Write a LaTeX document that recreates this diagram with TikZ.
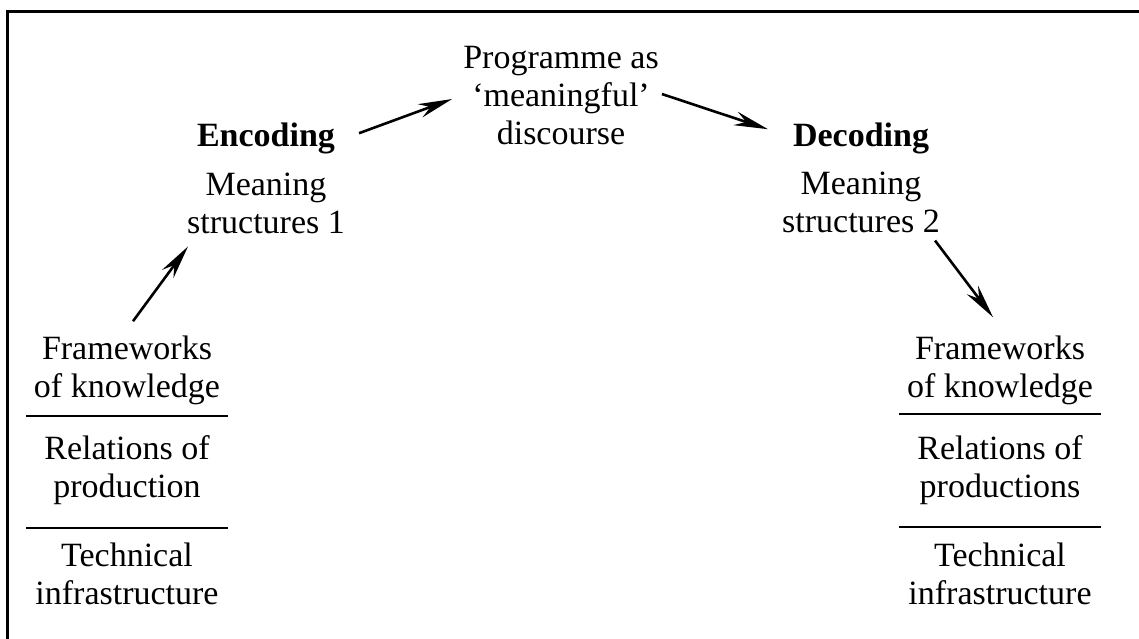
\documentclass[tikz,border=0pt]{standalone}
\usepackage{fontspec}
\setmainfont{Liberation Serif}
\usetikzlibrary{arrows.meta,positioning,calc}

\begin{document}
\begin{tikzpicture}[x=1pt,y=-1pt,
    stagetext/.style={align=center, inner sep=0pt, anchor=base, font=\fontsize{34}{38}\selectfont},
    flow/.style={-{Stealth[length=34pt,width=14pt]}, line width=2.6pt},
    rule/.style={line width=2.4pt}]
        \def\framewidth{3pt}
        \def\halfrule{101}
        \useasboundingbox (0,0) rectangle (1139,639);
        \draw [line width=\framewidth] (7,12) rectangle (1160,660);
        % the three stages of the circuit
        \node [stagetext] (enc) at (266,233) {\textbf{Encoding}\\[10pt]Meaning\\structures 1};
        \node [stagetext] (prog) at (561,145) {Programme as\\`meaningful'\\discourse};
        \node [stagetext] (dec) at (861,232) {\textbf{Decoding}\\[10pt]Meaning\\structures 2};
        % the two stacks of conditions
        \foreach \side/\xc/\ya/\yb/\prod in {L/127/416/528/production, R/1000/414/527/productions}
        {
        \node [stagetext] (fw\side) at (\xc,397) {Frameworks\\of knowledge};
        \node [stagetext] (rel\side) at (\xc,497) {Relations of\\\prod};
        \node [stagetext] (tech\side) at (\xc,604) {Technical\\infrastructure};
        \draw [rule] (\xc-\halfrule,\ya) -- (\xc+\halfrule,\ya);
        \draw [rule] (\xc-\halfrule,\yb) -- (\xc+\halfrule,\yb);
        }
        \draw [flow] ([shift={(6,-14)}]fwL.north) -- ([shift={(1,13)}]enc.south west);
        \draw [flow] ([shift={(14,10)}]enc.north east) -- ([shift={(-11,3)}]prog.west);
        \draw [flow] ([shift={(3,-2)}]prog.east) -- ([shift={(-14,7)}]dec.north west);
        \draw [flow] ([shift={(-5,8)}]dec.south east) -- ([shift={(-7,-18)}]fwR.north);
    \end{tikzpicture}
\end{document}
